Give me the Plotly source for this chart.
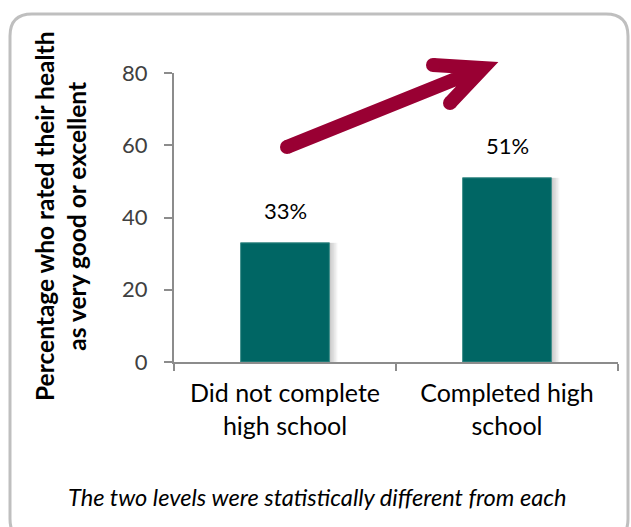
import plotly.graph_objects as go

categories = ["Did not complete<br>high school", "Completed high<br>school"]
values = [33, 51]
value_labels = ["33%", "51%"]
y_ticks = [0, 20, 40, 60, 80]
y_title = "<b>Percentage who rated their health<br>as very good or excellent</b>"
footnote = "<i>The two levels were statistically different from each</i>"

FIG_W, FIG_H = 631, 527
L, R, T, B = 174, 13, 73, 165
PW, PH = FIG_W - L - R, FIG_H - T - B

def fx(px):
    return (px - L) / PW

def fy(py):
    return (T + PH - py) / PH

FONT = "Lato, 'Open Sans', sans-serif"
ARROW = "#990033"
BAR = "#006664"
AXIS = "#8C8C8C"
BAR_W = 0.4

fig = go.Figure()
# soft shadow to the right of the bars
for k in range(1, 6):
    fig.add_trace(go.Bar(
        x=categories, y=values, width=BAR_W, offset=-BAR_W / 2 + k * 1.6 / PW * 2,
        marker=dict(color="rgba(0,0,0,0.045)", line=dict(width=0)),
        hoverinfo="skip",
    ))
fig.add_trace(go.Bar(
    x=categories, y=values, width=BAR_W, offset=-BAR_W / 2,
    marker=dict(color=BAR, line=dict(width=1, color="#3f8f8a")),
    cliponaxis=False,
))

annotations = []
for cat, val, lab in zip(categories, values, value_labels):
    annotations.append(dict(x=cat, y=val, xref="x", yref="y", text=lab,
                            showarrow=False, xanchor="center", yanchor="bottom", yshift=17,
                            font=dict(family=FONT, size=22, color="#000000")))

shapes = []
# rounded border
x0, y0, x1, y1, r = 10, 14, 628, 541, 22
path = (f"M {fx(x0+r)},{fy(y0)} L {fx(x1-r)},{fy(y0)} Q {fx(x1)},{fy(y0)} {fx(x1)},{fy(y0+r)} "
        f"L {fx(x1)},{fy(y1-r)} Q {fx(x1)},{fy(y1)} {fx(x1-r)},{fy(y1)} "
        f"L {fx(x0+r)},{fy(y1)} Q {fx(x0)},{fy(y1)} {fx(x0)},{fy(y1-r)} "
        f"L {fx(x0)},{fy(y0+r)} Q {fx(x0)},{fy(y0)} {fx(x0+r)},{fy(y0)} Z")
shapes.append(dict(type="path", xref="paper", yref="paper", path=path,
                   line=dict(color="#BFBFBF", width=3), fillcolor="rgba(0,0,0,0)", layer="below"))

# arrow
tail, tip, arm1, arm2 = (287, 147), (483, 68), (433, 65), (450, 103)
apath = (f"M {fx(tail[0])},{fy(tail[1])} L {fx(tip[0])},{fy(tip[1])} "
         f"M {fx(arm1[0])},{fy(arm1[1])} L {fx(tip[0])},{fy(tip[1])} L {fx(arm2[0])},{fy(arm2[1])}")
shapes.append(dict(type="path", xref="paper", yref="paper", path=apath,
                   line=dict(color=ARROW, width=14)))
for (px, py) in [tail, arm1, arm2]:
    shapes.append(dict(type="circle", xref="paper", yref="paper",
                       xsizemode="pixel", ysizemode="pixel",
                       xanchor=fx(px), yanchor=fy(py), x0=-7, x1=7, y0=-7, y1=7,
                       fillcolor=ARROW, line=dict(width=0)))

annotations += [
    dict(text=y_title, xref="paper", yref="paper", x=fx(60), y=fy(217),
         xanchor="center", yanchor="middle",
         textangle=-90, showarrow=False, font=dict(family=FONT, size=24.5, color="#000000"),
         align="center"),
    dict(text=footnote, xref="paper", yref="paper", x=fx(317), y=fy(497),
         xanchor="center", yanchor="middle",
         showarrow=False, font=dict(family=FONT, size=23.6, color="#000000")),
]

fig.update_layout(
    width=FIG_W, height=FIG_H,
    margin=dict(l=L, r=R, t=T, b=B, autoexpand=False),
    paper_bgcolor="white", plot_bgcolor="white",
    showlegend=False, barmode="overlay",
    shapes=shapes, annotations=annotations,
    xaxis=dict(
        showline=True, linecolor=AXIS, linewidth=2,
        ticks="outside", tickson="boundaries", ticklen=7, tickcolor=AXIS, tickwidth=2,
        ticklabelstandoff=8,
        tickfont=dict(family=FONT, size=25, color="#000000"),
        showgrid=False, zeroline=False,
    ),
    yaxis=dict(
        range=[0, 80], tickvals=y_ticks,
        showline=True, linecolor=AXIS, linewidth=2,
        ticks="outside", ticklen=8, tickcolor=AXIS, tickwidth=2,
        ticklabelstandoff=12,
        tickfont=dict(family=FONT, size=22, color="#404040"),
        showgrid=False, zeroline=False,
    ),
)

fig.write_html("out.html", config={"displayModeBar": False})
with open("out.html", encoding="utf-8") as f:
    html = f.read()
html = html.replace("<head>", "<head><style>html,body{margin:0;padding:0;overflow:hidden;}</style>", 1)
with open("out.html", "w", encoding="utf-8") as f:
    f.write(html)
